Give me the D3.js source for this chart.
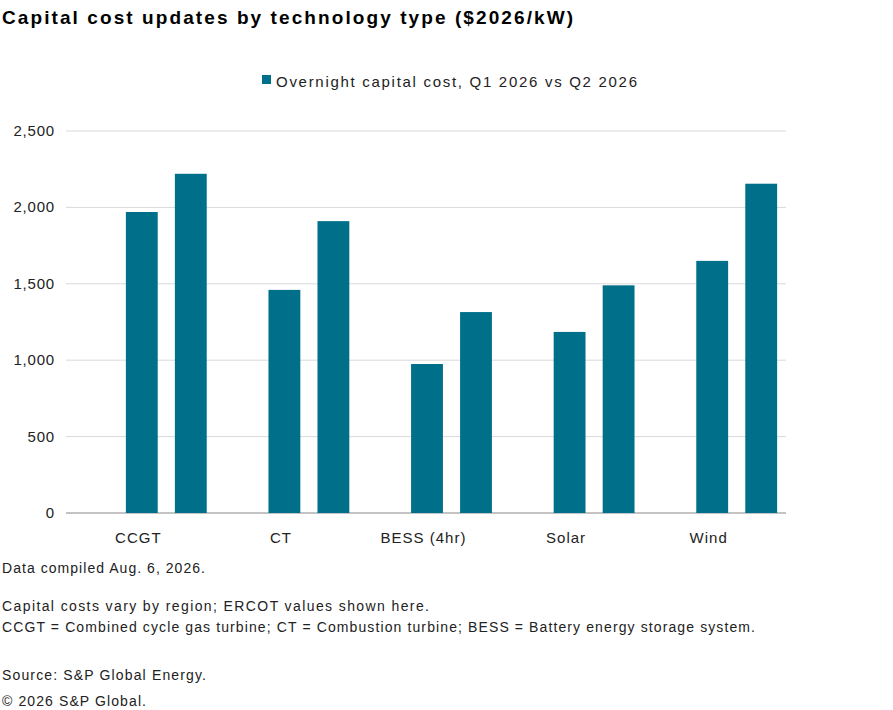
<!DOCTYPE html>
<html>
<head>
<meta charset="utf-8">
<script src="https://cdn.jsdelivr.net/npm/d3@7"></script>
<style>
  body { margin: 0; background: #fff; font-family: "Liberation Sans", Arial, sans-serif; }
</style>
</head>
<body>
<svg id="chart" width="893" height="710"></svg>
<script>
const categories = ["CCGT", "CT", "BESS (4hr)", "Solar", "Wind"];
const q1Values = [1970, 1460, 975, 1185, 1650];
const q2Values = [2220, 1910, 1315, 1490, 2155];
const yTicks = [0, 500, 1000, 1500, 2000, 2500];
const notes = [
  "Data compiled Aug. 6, 2026.",
  "",
  "Capital costs vary by region; ERCOT values shown here.",
  "CCGT = Combined cycle gas turbine; CT = Combustion turbine; BESS = Battery energy storage system.",
  "",
  "Source: S&P Global Energy.",
  "\u00a9 2026 S&P Global."
];
const noteWidths = [203, 0, 427, 753, 0, 204, 144];

const color = "#00708a";
const svg = d3.select("#chart");

svg.append("text").attr("x", 2).attr("y", 24)
  .attr("font-size", 19).attr("font-weight", "bold").attr("fill", "#000")
  .attr("textLength", 571).attr("lengthAdjust", "spacing")
  .text("Capital cost updates by technology type ($2026/kW)");

// legend
svg.append("rect").attr("x", 262).attr("y", 75).attr("width", 9).attr("height", 9).attr("fill", color);
svg.append("text").attr("x", 276).attr("y", 87).attr("font-size", 15).attr("fill", "#222")
  .attr("textLength", 361).attr("lengthAdjust", "spacing")
  .text("Overnight capital cost, Q1 2026 vs Q2 2026");

const y = d3.scaleLinear().domain([0, 2500]).range([513, 131]);
const x = d3.scaleBand().domain(categories).range([95, 808]);
const sub = d3.scaleBand().domain([0, 1]).range([0, x.bandwidth()]).paddingInner(0.35).paddingOuter(0.63);

// grid
svg.append("g").selectAll("line").data(yTicks).join("line")
  .attr("x1", 66).attr("x2", 786)
  .attr("y1", d => y(d)).attr("y2", d => y(d))
  .attr("stroke", d => d === 0 ? "#888" : "#d9d9d9").attr("stroke-width", 1);

svg.append("g").selectAll("text").data(yTicks).join("text")
  .attr("x", 55).attr("y", d => y(d) + 5).attr("text-anchor", "end")
  .attr("font-size", 15).attr("letter-spacing", 0.8).attr("fill", "#222")
  .text(d => d3.format(",")(d));

const rows = categories.map((c, i) => [
  { c, k: 0, v: q1Values[i] },
  { c, k: 1, v: q2Values[i] }
]).flat();

svg.append("g").selectAll("rect").data(rows).join("rect")
  .attr("x", d => x(d.c) + sub(d.k))
  .attr("width", sub.bandwidth())
  .attr("y", d => y(d.v))
  .attr("height", d => y(0) - y(d.v))
  .attr("fill", color);

svg.append("g").selectAll("text").data(categories).join("text")
  .attr("x", d => x(d) + x.bandwidth() / 2 - 28).attr("y", 543)
  .attr("text-anchor", "middle").attr("font-size", 15).attr("letter-spacing", 1)
  .attr("fill", "#222")
  .text(d => d);

const ny = [573, 0, 611, 632, 0, 680, 706];
svg.append("g").selectAll("text").data(notes).join("text")
  .attr("x", 2).attr("y", (d, i) => ny[i])
  .attr("font-size", 14).attr("fill", "#222")
  .attr("textLength", (d, i) => noteWidths[i] || null).attr("lengthAdjust", "spacing")
  .text(d => d);
</script>
</body>
</html>
